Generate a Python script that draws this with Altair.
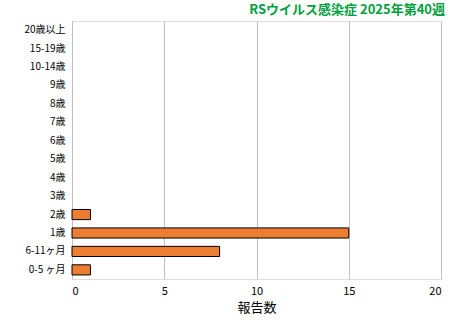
import altair as alt
import pandas as pd

categories = ["20歳以上", "15-19歳", "10-14歳", "9歳", "8歳", "7歳", "6歳", "5歳",
              "4歳", "3歳", "2歳", "1歳", "6-11ヶ月", "0-5 ヶ月"]
values = [0, 0, 0, 0, 0, 0, 0, 0, 0, 0, 1, 15, 8, 1]
x_ticks = [0, 5, 10, 15, 20]

df = pd.DataFrame({"cat": categories, "val": values})
FONT = "Noto Sans CJK JP"

chart = alt.Chart(df).transform_filter(
    alt.datum.val > 0
).mark_bar(
    color="#ED7D31", stroke="black", strokeWidth=1
).encode(
    x=alt.X("val:Q", scale=alt.Scale(domain=[0, 20], nice=False),
            axis=alt.Axis(values=x_ticks, title="報告数", grid=True, gridColor="#c0c0c0",
                          domain=False, ticks=False, labelFontSize=11, labelFont=FONT,
                          labelColor="black", titleFont=FONT, titleFontSize=13,
                          titleFontWeight="normal", titleColor="black", labelPadding=6,
                          titlePadding=5)),
    y=alt.Y("cat:N", sort=categories,
            scale=alt.Scale(domain=categories, paddingInner=0.45, paddingOuter=0.22),
            axis=alt.Axis(title=None, ticks=False, domain=False, labelFont=FONT,
                          labelFontSize=10, labelColor="black", labelPadding=7)),
).properties(
    width=369, height=258,
    title=alt.TitleParams("RSウイルス感染症 2025年第40週", anchor="end", color="#00A040",
                          fontSize=13, fontWeight="bold", font=FONT, offset=4, dx=4),
    autosize=alt.AutoSizeParams(type="none"),
    padding={"left": 72, "top": 21, "right": 18, "bottom": 42},
).configure_view(stroke="black", strokeWidth=1.5).configure(background="white")

chart.save("out.html", embed_options={"renderer": "svg", "actions": False})
